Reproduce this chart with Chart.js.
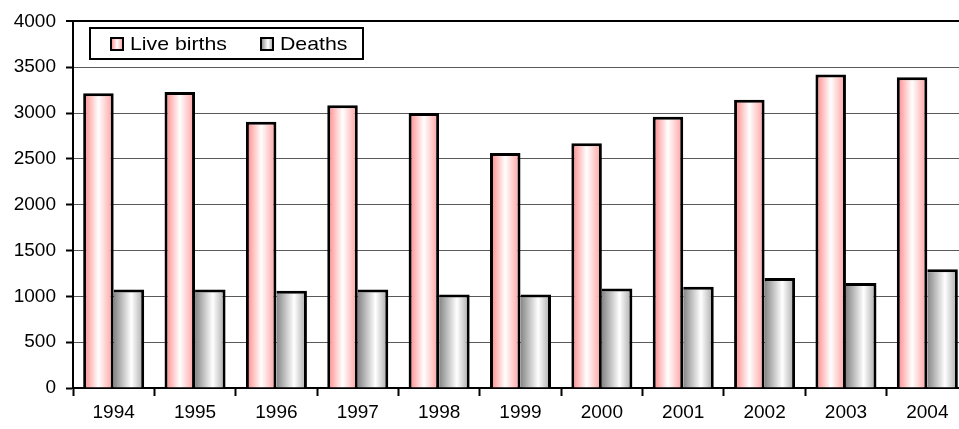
<!DOCTYPE html>
<html>
<head>
<meta charset="utf-8">
<script src="https://cdn.jsdelivr.net/npm/chart.js@4/dist/chart.umd.min.js"></script>
<style>
  html, body { margin: 0; padding: 0; background: #fff; overflow: hidden; }
  #wrap { width: 980px; height: 429px; }
</style>
</head>
<body>
<div id="wrap"><canvas id="births"></canvas></div>
<script>
const years = ["1994", "1995", "1996", "1997", "1998", "1999", "2000", "2001", "2002", "2003", "2004"];
const liveBirths = [3215, 3230, 2905, 3085, 3000, 2565, 2670, 2960, 3145, 3420, 3390];
const deaths = [1075, 1075, 1060, 1075, 1020, 1020, 1085, 1105, 1200, 1145, 1295];
const yMin = 0;
const yMax = 4000;
const yStep = 500;

const pinkStops = [[0, "#ff8282"], [0.5, "#ffffff"], [1, "#ff9c9c"]];
const greyStops = [[0, "#858585"], [0.58, "#ffffff"], [1, "#a5a5a5"]];
const groupShare = 0.75;

function gradient(ctx, left, width, stops) {
  const g = ctx.createLinearGradient(left, 0, left + width, 0);
  stops.forEach(function (s) { g.addColorStop(s[0], s[1]); });
  return g;
}

// gradient across each bar, placed from the category scale
function barFill(stops, side) {
  return function (c) {
    const chart = c.chart;
    const xs = chart.scales.x;
    if (!chart.chartArea || !xs || c.dataIndex === undefined) return stops[0][1];
    const center = xs.getPixelForValue(c.dataIndex);
    const w = xs.width / years.length * groupShare / 2;
    const left = side === 0 ? center - w : center;
    return gradient(chart.ctx, left, w, stops);
  };
}

const font = { family: "'Liberation Sans', Arial, sans-serif", size: 19 };

const legendBox = {
  id: "legendBox",
  afterDraw(chart) {
    const ctx = chart.ctx;
    ctx.save();
    ctx.fillStyle = "#fff";
    ctx.fillRect(90, 28, 273, 31);
    ctx.lineWidth = 2;
    ctx.strokeStyle = "#000";
    ctx.strokeRect(90, 28, 273, 31);
    const items = [
      { x: 111, tx: 130, stops: pinkStops },
      { x: 261, tx: 280, stops: greyStops },
    ];
    ctx.font = font.size + "px " + font.family;
    ctx.textBaseline = "middle";
    items.forEach(function (it, i) {
      ctx.fillStyle = gradient(ctx, it.x, 12, it.stops);
      ctx.fillRect(it.x, 38, 12, 12);
      ctx.lineWidth = 2;
      ctx.strokeStyle = "#000";
      ctx.strokeRect(it.x, 38, 12, 12);
      ctx.fillStyle = "#000";
      // source text is drawn a little wider than normal
      ctx.save();
      ctx.translate(it.tx, 45);
      ctx.scale(1.12, 1);
      ctx.fillText(chart.data.datasets[i].label, 0, 0);
      ctx.restore();
    });
    ctx.restore();
  },
};

const data = {
  labels: years,
  datasets: [
    {
      label: "Live births",
      data: liveBirths,
      backgroundColor: barFill(pinkStops, 0),
      borderColor: "#000",
      borderWidth: { top: 3, left: 3, right: 3, bottom: 0 },
      borderSkipped: false,
    },
    {
      label: "Deaths",
      data: deaths,
      backgroundColor: barFill(greyStops, 1),
      borderColor: "#000",
      borderWidth: { top: 3, left: 0, right: 3, bottom: 0 },
      borderSkipped: false,
    },
  ],
};

const config = {
  type: "bar",
  data: data,
  plugins: [legendBox],
  options: {
    responsive: true,
    maintainAspectRatio: false,
    animation: false,
    layout: { padding: { top: 20, right: 12, bottom: 0, left: 0 } },
    datasets: { bar: { categoryPercentage: groupShare, barPercentage: 1 } },
    plugins: {
      legend: { display: false },
      tooltip: { enabled: false },
    },
    scales: {
      x: {
        afterFit: function (s) { s.height = 41; },
        grid: {
          display: true,
          drawOnChartArea: false,
          drawTicks: true,
          tickLength: 8,
          tickWidth: 2,
          tickColor: "#000",
          offset: true,
        },
        border: { display: true, color: "#000", width: 2 },
        ticks: { color: "#000", font: font, padding: 5, maxRotation: 0 },
      },
      y: {
        min: yMin,
        max: yMax,
        afterFit: function (s) { s.width = 73; },
        grid: {
          color: function (c) { return c.tick && c.tick.value === yMax ? "#000" : "#5a5a5a"; },
          lineWidth: function (c) { return c.tick && c.tick.value === yMax ? 2 : 1; },
          tickLength: 7,
          tickWidth: 2,
          tickColor: "#000",
        },
        border: { display: true, color: "#000", width: 2 },
        ticks: {
          color: "#000",
          font: font,
          padding: 10,
          stepSize: yStep,
          callback: function (value) { return String(value); },
        },
      },
    },
  },
};

new Chart(document.getElementById("births"), config);
</script>
</body>
</html>
